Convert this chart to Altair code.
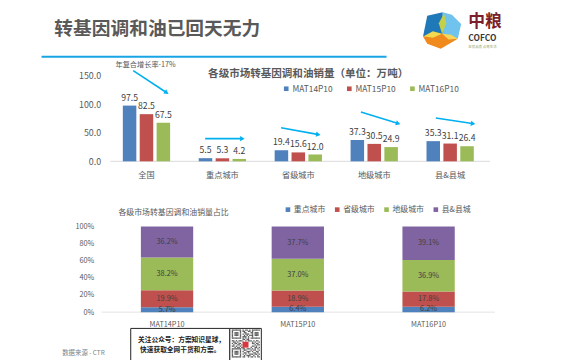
import math
import altair as alt
import pandas as pd

FONT = "Noto Sans CJK SC"

# ---- data ----
cities = ["全国", "重点城市", "省级城市", "地级城市", "县&县城"]
periods = ["MAT14P10", "MAT15P10", "MAT16P10"]
sales_14 = [97.5, 5.5, 19.4, 37.3, 35.3]
sales_15 = [82.5, 5.3, 15.6, 30.5, 31.1]
sales_16 = [67.5, 4.2, 12.0, 24.9, 26.4]
tiers = ["重点城市", "省级城市", "地级城市", "县&县城"]
share_14 = [5.7, 19.9, 38.2, 36.2]
share_15 = [6.4, 18.9, 37.0, 37.7]
share_16 = [6.2, 17.8, 36.9, 39.1]
y_ticks_top = [0, 50, 100, 150]
y_ticks_bottom = [0, 20, 40, 60, 80, 100]

BLUE, RED, GREEN, PURPLE = "#4F81BD", "#C0504D", "#9BBB59", "#8064A2"
ARROW = "#00B0F0"
GREY = "#595959"
DARK = "#404040"


def P(v):
    return v - 8  # page pixel to chart pixel


def txt(s, x, y, size, color=GREY, align="left", weight="normal"):
    return alt.Chart(pd.DataFrame({"t": [s]})).mark_text(
        align=align, baseline="middle", fontSize=size, color=color,
        fontWeight=weight, font=FONT,
    ).encode(x=alt.value(P(x)), y=alt.value(P(y)), text="t:N")


def line(x1, y1, x2, y2, color, width):
    return alt.Chart(pd.DataFrame({"a": [0]})).mark_rule(color=color, strokeWidth=width).encode(
        x=alt.value(P(x1)), x2=alt.value(P(x2)), y=alt.value(P(y1)), y2=alt.value(P(y2)))


def arrow(x1, y1, x2, y2):
    ang = (math.degrees(math.atan2(y2 - y1, x2 - x1)) + 90) % 360
    dx = 2 * math.cos(math.radians(ang - 90))
    dy = 2 * math.sin(math.radians(ang - 90))
    shaft = line(x1, y1, x2 - dx, y2 - dy, ARROW, 1.6)
    head = alt.Chart(pd.DataFrame({"a": [0]})).mark_point(
        shape="triangle", filled=True, color=ARROW, size=28, angle=ang, opacity=1, strokeWidth=0
    ).encode(x=alt.value(P(x2 - dx)), y=alt.value(P(y2 - dy)))
    return alt.layer(shaft, head)


# ---- top grouped bars ----
top_df = pd.DataFrame([
    {"city": c, "period": p, "v": v}
    for p, vals in zip(periods, [sales_14, sales_15, sales_16])
    for c, v in zip(cities, vals)
])
x_top = alt.X("city:N", sort=cities, title=None,
              scale=alt.Scale(domain=cities, range=[P(110), P(495)], paddingInner=0.377, paddingOuter=0.188),
              axis=alt.Axis(orient="bottom", domain=False, ticks=False, labelAngle=0, labelFontSize=8.3,
                            labelColor=GREY, labelPadding=0, labelFont=FONT, offset=-(352 - P(170))))
y_top = alt.Y("v:Q", title=None,
              scale=alt.Scale(domain=[0, 150], range=[P(161), P(74)]),
              axis=alt.Axis(orient="left", domain=False, ticks=False, grid=False, values=y_ticks_top, format=".1f",
                            labelFontSize=9, labelColor=GREY, labelPadding=0, labelFont=FONT, offset=-P(102)))
off_top = alt.XOffset("period:N", sort=periods, scale=alt.Scale(domain=periods, paddingInner=0.2))
bars_top = alt.Chart(top_df).mark_bar().encode(
    x=x_top, y=y_top, xOffset=off_top,
    color=alt.Color("period:N", sort=periods, title=None,
                    scale=alt.Scale(domain=periods, range=[BLUE, RED, GREEN]),
                    legend=alt.Legend(orient="none", legendX=P(286), legendY=P(83), direction="horizontal",
                                      columns=3, symbolType="square", symbolSize=22, labelFontSize=8.5,
                                      labelColor=GREY, labelFont=FONT, columnPadding=12, symbolOffset=0,
                                      labelOffset=2, padding=0)),
)
labels_top = alt.Chart(top_df).mark_text(baseline="bottom", dy=-3, fontSize=8.8, color=DARK, font=FONT).encode(
    x=x_top, y=y_top, xOffset=off_top,
    text=alt.Text("v:Q", format=".1f"),
)
top = alt.layer(bars_top, labels_top)

# ---- bottom stacked bars ----
rows = []
for p, vals in zip(periods, [share_14, share_15, share_16]):
    start = 0.0
    for t, v in zip(tiers, vals):
        rows.append({"period": p, "tier": t, "v": v, "start": start, "end": start + v, "mid": start + v / 2})
        start += v
bot_df = pd.DataFrame(rows)
x_bot = alt.X("period:N", sort=periods, title=None,
              scale=alt.Scale(domain=periods, range=[P(103), P(501)], paddingInner=0.6, paddingOuter=0.3),
              axis=alt.Axis(orient="bottom", domain=False, ticks=False, labelAngle=0, labelFontSize=7.4,
                            labelColor=GREY, labelPadding=0, labelFont=FONT, offset=-(352 - P(323))))
y_scale_bot = alt.Scale(domain=[0, 100], range=[P(314), P(227)])
y_axis_bot = alt.Axis(orient="left", domain=False, ticks=False, grid=False, values=y_ticks_bottom,
                      labelExpr="datum.value + '%'", labelFontSize=7.4, labelColor=GREY, labelPadding=0,
                      labelFont=FONT, offset=-P(95))
bars_bot = alt.Chart(bot_df).mark_bar().encode(
    x=x_bot,
    y=alt.Y("start:Q", title=None, scale=y_scale_bot, axis=y_axis_bot),
    y2="end:Q",
    color=alt.Color("tier:N", sort=tiers, title=None,
                    scale=alt.Scale(domain=tiers, range=[BLUE, RED, GREEN, PURPLE]),
                    legend=alt.Legend(orient="none", legendX=P(288), legendY=P(206), direction="horizontal",
                                      columns=4, symbolType="square", symbolSize=22, labelFontSize=8,
                                      labelColor=GREY, labelFont=FONT, columnPadding=8, symbolOffset=0,
                                      labelOffset=2, padding=0)),
)
labels_bot = alt.Chart(bot_df).mark_text(fontSize=7.5, color=DARK, font=FONT, baseline="middle").encode(
    x=x_bot,
    y=alt.Y("mid:Q", title=None, scale=y_scale_bot, axis=y_axis_bot),
    text=alt.Text("label:N"),
).transform_calculate(label="format(datum.v, '.1f') + '%'")
bottom = alt.layer(bars_bot, labels_bot)

# ---- logo ----
logo_cx, logo_cy, logo_r = 448, 30, 25


def poly(pts, color):
    pp = [((425 + a / 3 - logo_cx) / logo_r, (5 + b / 3 - logo_cy) / logo_r) for a, b in pts]
    path = "M" + "L".join(f"{a:.3f},{b:.3f}" for a, b in pp) + "Z"
    return alt.Chart(pd.DataFrame({"a": [0]})).mark_point(
        shape=path, filled=True, color=color, opacity=1, strokeWidth=0, size=(2 * logo_r) ** 2
    ).encode(x=alt.value(P(logo_cx)), y=alt.value(P(logo_cy)))


logo = alt.layer(
    poly([(25, 25), (72, 14), (72, 80), (12, 88)], "#1F78B8"),
    poly([(72, 14), (100, 22), (128, 50), (118, 95), (72, 80)], "#6FC3EC"),
    poly([(12, 88), (72, 80), (118, 95), (66, 125), (25, 110)], "#F08A1D"),
    poly([(70, 80), (60, 48), (76, 18), (83, 48)], "#C4D04A"),
    poly([(70, 80), (42, 72), (14, 87), (42, 92)], "#F2D94E"),
    poly([(70, 80), (98, 83), (118, 95), (90, 97)], "#F5D65A"),
)

# ---- corner QR card ----
qr_rows = [
    "111111101011010111111",
    "100000101100110100000",
    "101110100110001101110",
    "101110101011100101110",
    "101110100101011101110",
    "100000101110100100000",
    "111111101010101111111",
    "000000001101100000000",
    "110101110010111010110",
    "011010001000000101001",
    "101101100000000110110",
    "010011010000000001011",
    "110100100000000110100",
    "001011011000001001101",
    "111111101101110101010",
    "100000100110001011001",
    "101110101001110100110",
    "101110100110100011010",
    "101110101010011101101",
    "100000100101110010010",
    "111111101100101101011",
]
qr_x0, qr_y0, qr_cell = 235.0, 331.5, 1.36
qr_df = pd.DataFrame([
    {"x": P(qr_x0 + c * qr_cell), "x2": P(qr_x0 + (c + 1) * qr_cell),
     "y": P(qr_y0 + r * qr_cell), "y2": P(qr_y0 + (r + 1) * qr_cell)}
    for r, row in enumerate(qr_rows) for c, ch in enumerate(row) if ch == "1"
])
qr = alt.Chart(qr_df).mark_rect(color="#333333", opacity=0.8).encode(
    x=alt.X("x:Q", scale=None), x2="x2:Q", y=alt.Y("y:Q", scale=None), y2="y2:Q")


def box(x1, y1, x2, y2, fill, stroke=None, sw=0):
    kw = {"stroke": stroke, "strokeWidth": sw} if stroke else {}
    return alt.Chart(pd.DataFrame({"a": [0]})).mark_rect(fill=fill, **kw).encode(
        x=alt.value(P(x1)), x2=alt.value(P(x2)), y=alt.value(P(y1)), y2=alt.value(P(y2)))


decor = alt.layer(
    txt("转基因调和油已回天无力", 55, 27, 19, GREY, weight="bold"),
    line(42, 55, 392, 55, "#18A5E3", 2),
    logo,
    txt("中粮", 475, 20, 17, "#7A1F2B", weight="bold"),
    txt("COFCO", 475, 36, 8.5, "#3A3A3A", weight="bold"),
    txt("忠良品质 点亮生活", 475, 45, 3.5, "#9AA86A"),
    txt("各级市场转基因调和油销量（单位：万吨）", 211, 72, 10.7, GREY, weight="bold"),
    txt("年复合增长率-17%", 117, 63, 7.3, GREY),
    line(112, 161, 497, 161, "#D9D9D9", 1),
    line(103, 314, 502, 314, "#E3E3E3", 1),
    arrow(135, 69, 170, 92),
    arrow(208, 138, 247, 138),
    arrow(285, 127, 324, 134),
    arrow(366, 111, 405, 123),
    arrow(442, 117, 481, 123),
    txt("各级市场转基因调和油销量占比", 120, 213, 8, GREY),
    txt("数据来源 - CTR", 63, 355, 6.5, "#7F7F7F"),
    box(132.5, 330.5, 233, 370, "#FFFFFF", "#222222", 1),
    box(233, 330.5, 265, 370, "#FFFFFF", "#222222", 1),
    txt("关注公众号：方案知识星球，", 140, 342, 6.8, "#222222", weight="bold"),
    txt("快速获取全网干货和方案。", 142, 352, 6.8, "#222222", weight="bold"),
    qr,
    box(246, 344, 252, 350, "#D9363E"),
)

chart = alt.layer(decor, top, bottom).resolve_scale(
    x="independent", y="independent", color="independent"
).resolve_axis(x="independent", y="independent").resolve_legend(color="independent").properties(
    width=562, height=352, padding=0,
    autosize=alt.AutoSizeParams(type="none"),
    background="#FFFFFF",
).configure_view(stroke=None)

chart.save("out.html", embed_options={"renderer": "svg", "actions": False})
